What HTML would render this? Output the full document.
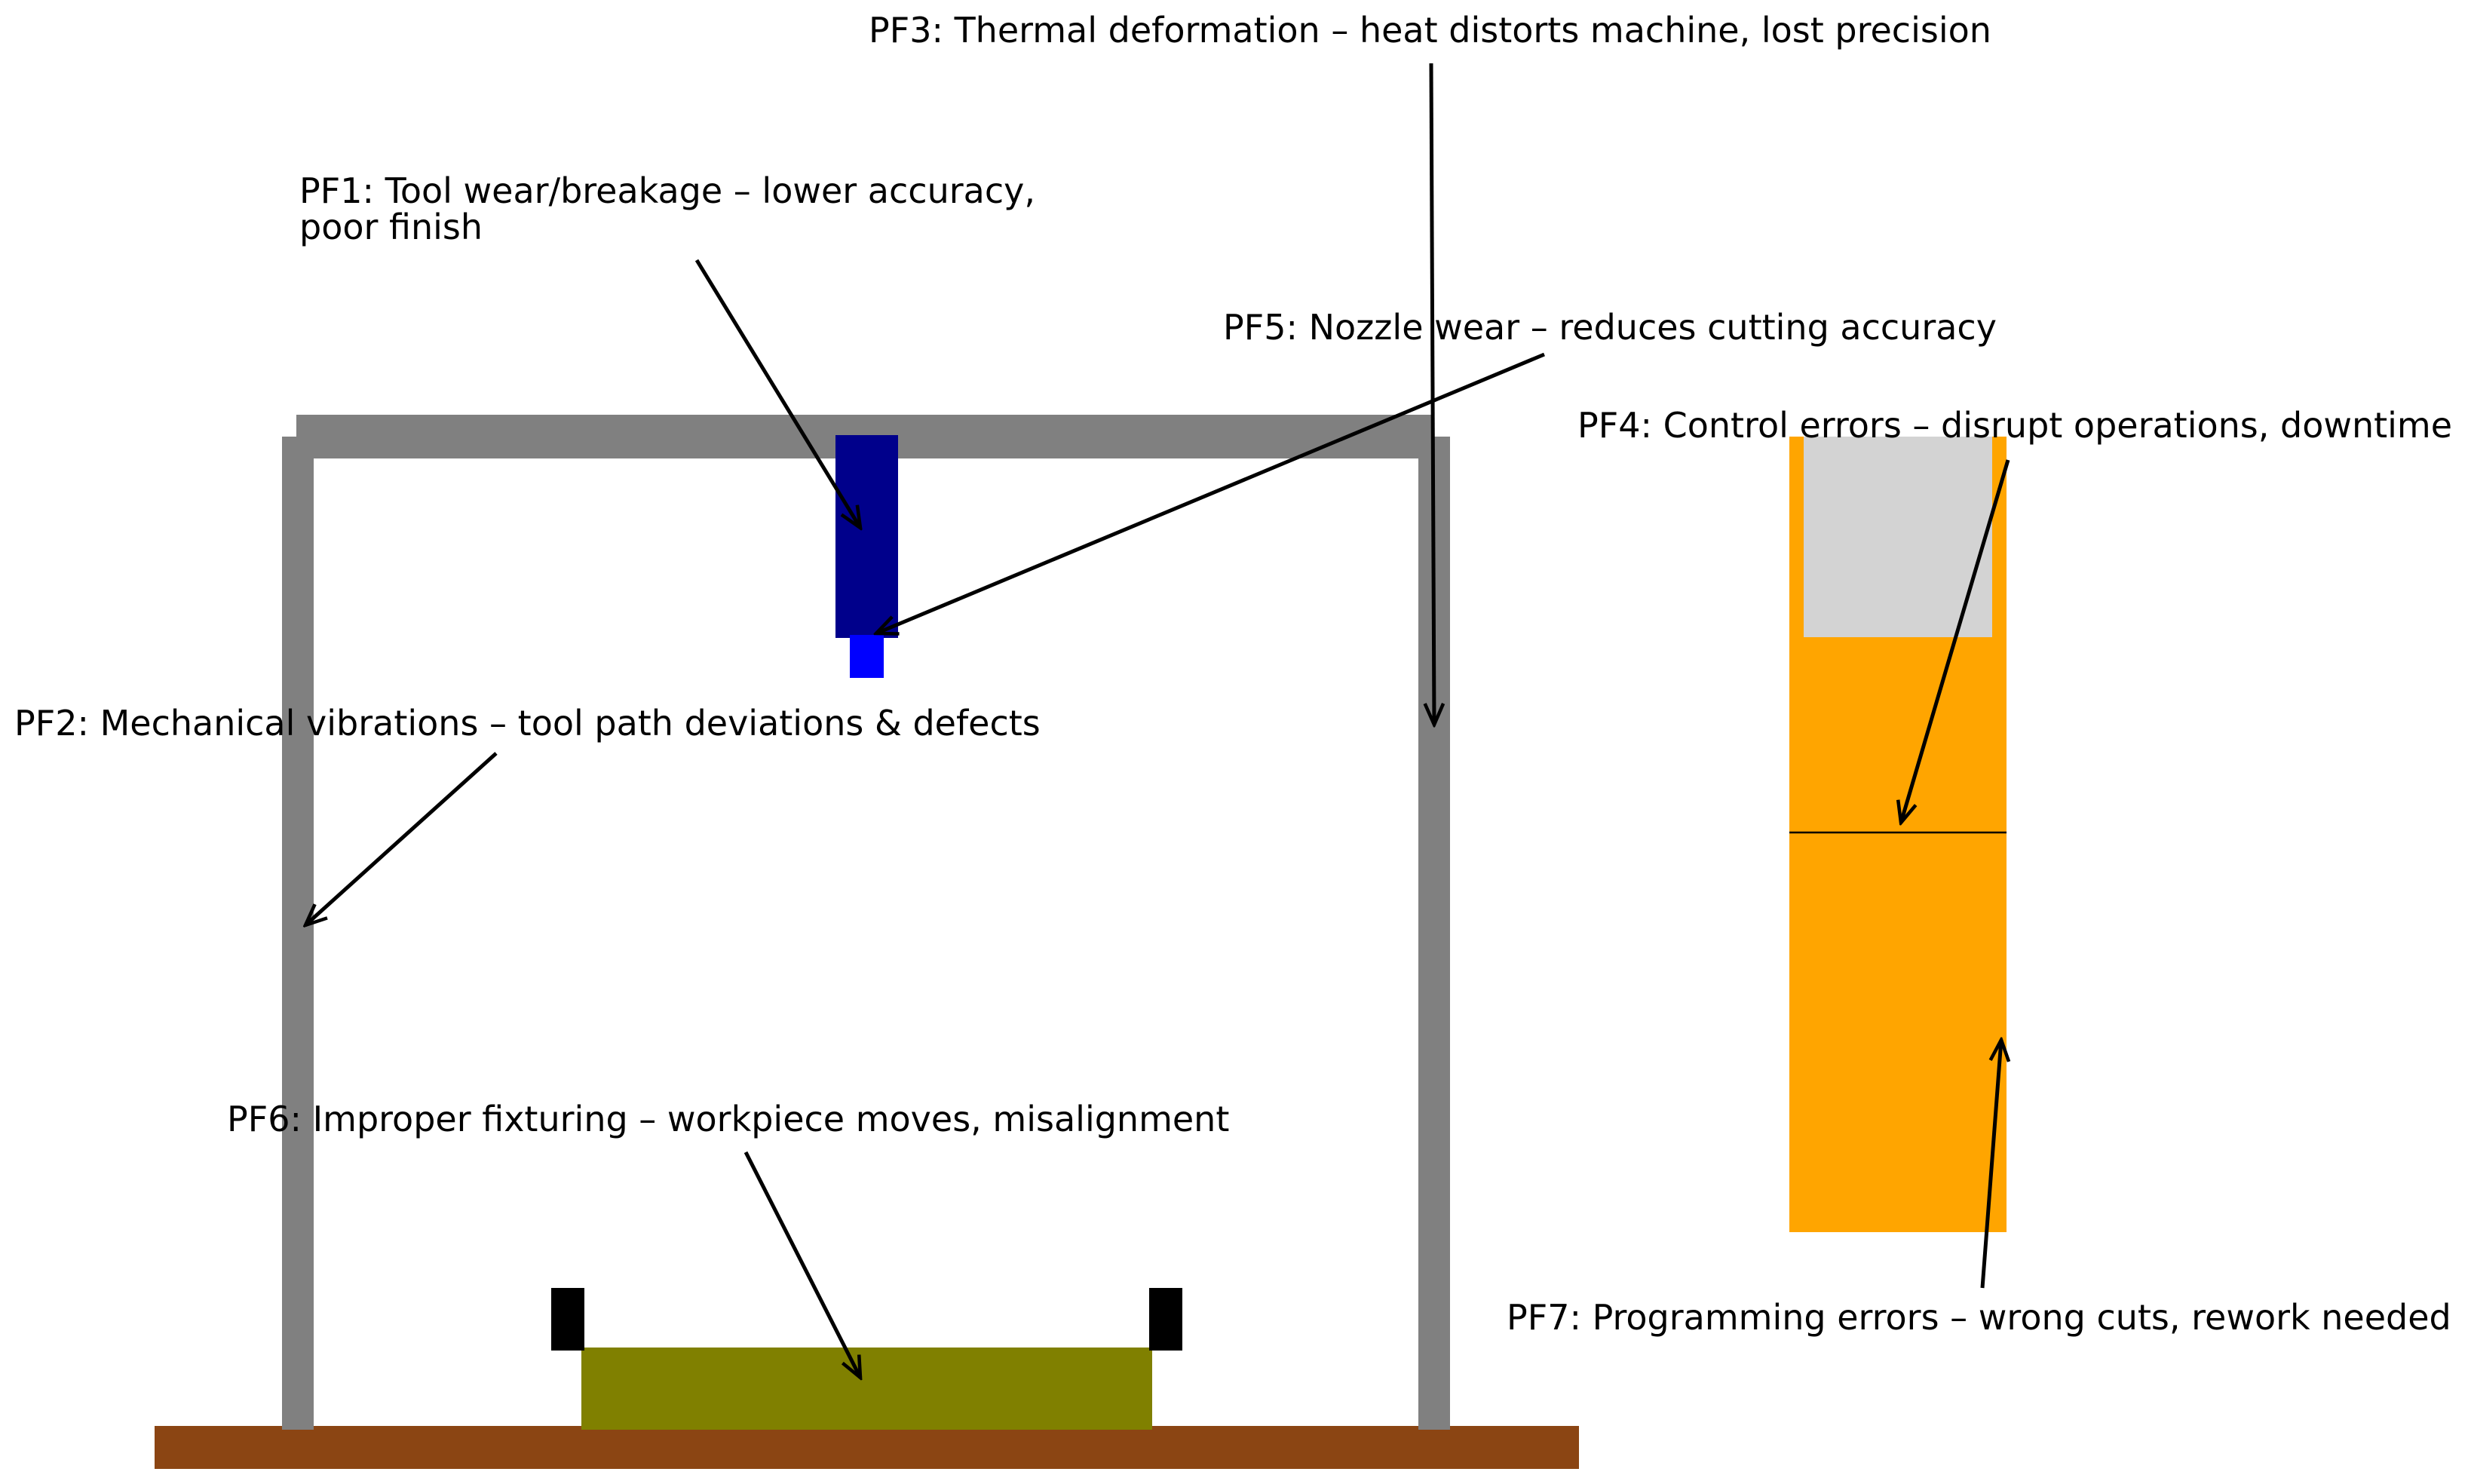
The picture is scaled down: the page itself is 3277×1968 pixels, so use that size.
<!DOCTYPE html>
<html><head><meta charset="utf-8"><style>
html,body{margin:0;padding:0;background:#fff;}
svg{display:block;}
text{font-family:"DejaVu Sans","Liberation Sans",sans-serif;font-size:46px;fill:#000;}
</style></head><body>
<svg width="3277" height="1968" viewBox="0 0 3277 1968" xmlns="http://www.w3.org/2000/svg">
<defs>
<marker id="a" viewBox="0 0 20 20" refX="18" refY="10" markerWidth="7" markerHeight="7" markerUnits="strokeWidth" orient="auto">
<path d="M2,3 L18,10 L2,17" fill="none" stroke="#000" stroke-width="2.6"/>
</marker>
</defs>
<rect x="205" y="1891" width="1889" height="57" fill="#8B4513"/>
<rect x="374" y="579" width="42" height="1317" fill="#808080"/>
<rect x="1881" y="579" width="42" height="1317" fill="#808080"/>
<rect x="393" y="550" width="1509" height="58" fill="#808080"/>
<rect x="1108" y="577" width="83" height="269" fill="#00008B"/>
<rect x="1127" y="842" width="45" height="57" fill="#0000FF"/>
<rect x="771" y="1787" width="757" height="109" fill="#808000"/>
<rect x="731" y="1708" width="44" height="83" fill="#000"/>
<rect x="1524" y="1708" width="44" height="83" fill="#000"/>
<rect x="2373" y="579" width="288" height="1055" fill="#FFA500"/>
<rect x="2392" y="579" width="250" height="266" fill="#D3D3D3"/>
<line x1="2373" y1="1104" x2="2661" y2="1104" stroke="#000" stroke-width="2.5"/>
<g stroke="#000" stroke-width="5" fill="none" marker-end="url(#a)">
<line x1="1898" y1="84" x2="1902" y2="961"/>
<line x1="924" y1="345" x2="1141" y2="700"/>
<line x1="2048" y1="470" x2="1162" y2="840"/>
<line x1="2663" y1="610" x2="2521" y2="1091"/>
<line x1="658" y1="999" x2="405" y2="1227"/>
<line x1="989" y1="1528" x2="1141" y2="1827"/>
<line x1="2629" y1="1708" x2="2654" y2="1379"/>
</g>
<text x="1152" y="56">PF3: Thermal deformation – heat distorts machine, lost precision</text>
<text x="397" y="269">PF1: Tool wear/breakage – lower accuracy,</text>
<text x="397" y="317">poor finish</text>
<text x="1622" y="450">PF5: Nozzle wear – reduces cutting accuracy</text>
<text x="2092" y="580">PF4: Control errors – disrupt operations, downtime</text>
<text x="19" y="975">PF2: Mechanical vibrations – tool path deviations &amp; defects</text>
<text x="301" y="1500">PF6: Improper fixturing – workpiece moves, misalignment</text>
<text x="1998" y="1763">PF7: Programming errors – wrong cuts, rework needed</text>
</svg>
</body></html>
